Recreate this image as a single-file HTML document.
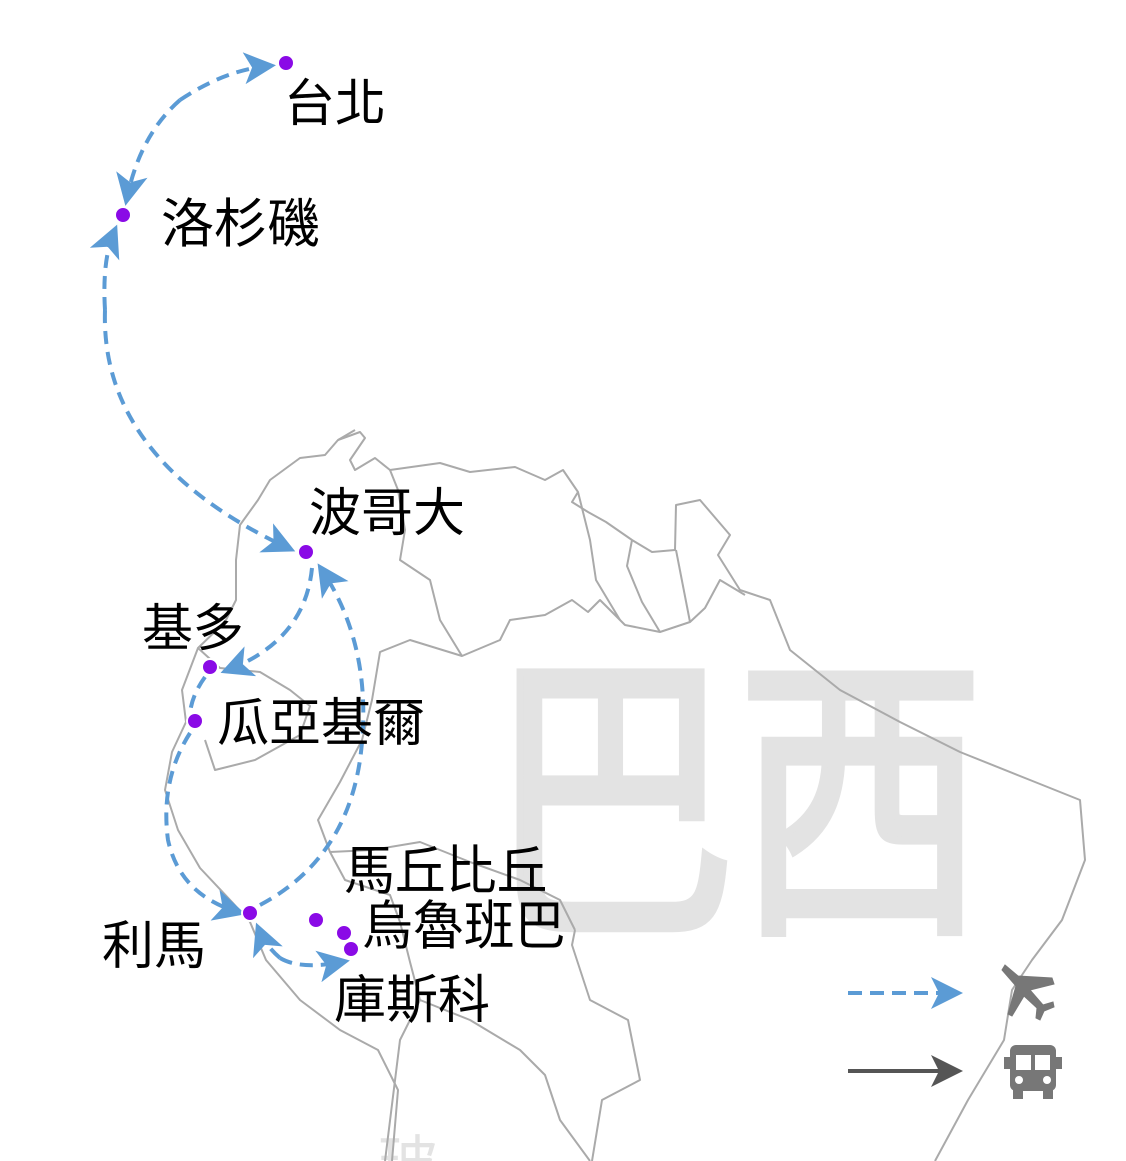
<!DOCTYPE html>
<html><head><meta charset="utf-8"><style>
html,body{margin:0;padding:0;background:#fff;}
svg{display:block;}
text{font-family:"Liberation Sans","Noto Sans CJK TC",sans-serif;}
</style></head><body>
<svg width="1126" height="1161" viewBox="0 0 1126 1161" xmlns="http://www.w3.org/2000/svg">
<defs>
<marker id="ab" markerWidth="8" markerHeight="8" refX="6" refY="4" orient="auto" markerUnits="strokeWidth">
<path d="M0,0 L8,4 L0,8 L2,4 Z" fill="#5b9bd5"/></marker>
<marker id="ag" markerWidth="8" markerHeight="8" refX="6" refY="4" orient="auto" markerUnits="strokeWidth">
<path d="M0,0 L8,4 L0,8 L2,4 Z" fill="#555"/></marker>
</defs>
<!-- big background text -->
<text transform="translate(488 910) scale(0.81 0.99)" x="0" y="0" font-size="307" fill="#e3e3e3" stroke="#e3e3e3" stroke-width="8">巴西</text>
<text x="378" y="1185" font-size="60" fill="#e3e3e3">玻</text>
<!-- map -->
<g fill="none" stroke="#aaa" stroke-width="2" stroke-linejoin="round">
<path d="M355,430 L338,440 L325,455 L300,458 L270,480 L258,500 L240,525 L236,560 L236,600 L225,622 L198,648 L182,690 L186,722 L172,752 L165,790 L178,830 L200,868 L232,902 L250,922 L266,960 L300,1000 L340,1030 L378,1050 L398,1090 L392,1161"/>
<path d="M338,440 L360,432 L365,438 L350,460 L355,470 L375,458 L390,470 L440,463 L470,472 L515,467 L545,480 L563,470 L578,492 L572,502 L588,512 L606,522 L632,540 L652,552 L675,550 L676,505 L700,500 L730,535 L718,555 L740,590 L770,600 L790,650 L840,690 L900,722 L960,752 L1030,780 L1080,800 L1085,860 L1062,920 L1032,960 L1012,990 L1004,1040 L968,1100 L935,1161"/>
<path d="M390,470 L398,490 L405,530 L400,560 L430,580 L440,620 L462,656 L500,640 L510,620 L545,615 L572,600 L588,612 L600,600 L625,625 L660,632 L690,622 L705,608 L720,580 L745,595"/>
<path d="M578,492 L590,540 L596,580 L620,620"/>
<path d="M632,540 L627,566 L642,602 L660,632"/>
<path d="M676,550 L690,622"/>
<path d="M198,648 L220,668 L260,672 L290,690 L310,706 L300,735 L255,760 L215,770 L205,740"/>
<path d="M462,656 L410,640 L380,652 L372,700 L362,740 L340,782 L318,820 L330,852 L372,850 L420,842 L470,862 L520,880 L560,900 L575,930"/>
<path d="M330,852 L345,880 L390,895 L400,922 L410,962 L420,1000 L400,1040 L385,1161"/>
<path d="M575,930 L572,945 L590,1000 L628,1020 L640,1080 L602,1100 L592,1161"/>
<path d="M420,1000 L470,1020 L520,1050 L545,1075 L560,1120 L590,1161"/>
</g>
<!-- flight routes -->
<g fill="none" stroke="#5b9bd5" stroke-width="4" stroke-dasharray="13,8">
<path d="M180,100 Q225,70 268,66" marker-end="url(#ab)"/>
<path d="M180,100 Q140,135 127,198" marker-end="url(#ab)"/>
<path d="M105,310 Q102,260 114,232" marker-end="url(#ab)"/>
<path d="M105,310 Q100,460 288,548" marker-end="url(#ab)"/>
<path d="M312,568 Q305,640 228,670" marker-end="url(#ab)"/>
<path d="M205,677 Q192,695 190,713"/>
<path d="M190,733 Q160,780 168,840 Q180,895 238,912" marker-end="url(#ab)"/>
<path d="M260,905 Q345,860 360,760 Q375,650 322,570" marker-end="url(#ab)"/>
<path d="M280,958 Q265,945 259,930" marker-end="url(#ab)"/>
<path d="M280,958 Q300,970 342,962" marker-end="url(#ab)"/>
</g>
<!-- dots -->
<g fill="#8a0ae6" stroke="#fff" stroke-width="2">
<circle cx="286" cy="63" r="8"/><circle cx="123" cy="215" r="8"/><circle cx="306" cy="552" r="8"/>
<circle cx="210" cy="667" r="8"/><circle cx="195" cy="721" r="8"/><circle cx="250" cy="913" r="8"/>
<circle cx="316" cy="920" r="8"/><circle cx="344" cy="933" r="8"/><circle cx="351" cy="949" r="8"/>
</g>
<!-- labels -->
<g fill="#000" font-size="51">
<text x="284" y="121">台北</text>
<text x="161" y="242" font-size="53">洛杉磯</text>
<text x="309" y="531" font-size="52">波哥大</text>
<text x="142" y="646">基多</text>
<text x="217" y="741" font-size="52">瓜亞基爾</text>
<text transform="translate(344 889) scale(0.96 1)" x="0" y="0" font-size="53">馬丘比丘</text>
<text transform="translate(362 944) scale(0.96 1)" x="0" y="0" font-size="53">烏魯班巴</text>
<text x="102" y="964" font-size="52">利馬</text>
<text x="334" y="1018" font-size="52">庫斯科</text>
</g>
<!-- legend -->
<line x1="848" y1="993" x2="955" y2="993" stroke="#5b9bd5" stroke-width="4" stroke-dasharray="14,8" marker-end="url(#ab)"/>
<line x1="848" y1="1071" x2="955" y2="1071" stroke="#555" stroke-width="4" marker-end="url(#ag)"/>
<!-- plane -->
<g fill="#777" stroke="#777">
<path d="M1005,965 L1018,976 L1052,978 L1054,984 L1030,990 L1043,1005 L1053,1002 L1054,1007 L1044,1011 L1040,1020 L1036,1018 L1037,1008 L1024,996 L1012,1016 L1008,1014 L1016,986 L1002,970 Z" stroke-width="1"/>
<!-- bus -->
<rect x="1010" y="1045" width="46" height="46" rx="6" stroke="none"/>
<rect x="1004" y="1057" width="6" height="12" stroke="none"/>
<rect x="1056" y="1057" width="6" height="12" stroke="none"/>
<rect x="1013" y="1089" width="10" height="10" stroke="none"/>
<rect x="1043" y="1089" width="10" height="10" stroke="none"/>
</g>
<rect x="1016" y="1055" width="15" height="15" fill="#fff"/>
<rect x="1035" y="1055" width="15" height="15" fill="#fff"/>
<circle cx="1019" cy="1080" r="4" fill="#fff"/><circle cx="1047" cy="1080" r="4" fill="#fff"/>
</svg>
</body></html>
